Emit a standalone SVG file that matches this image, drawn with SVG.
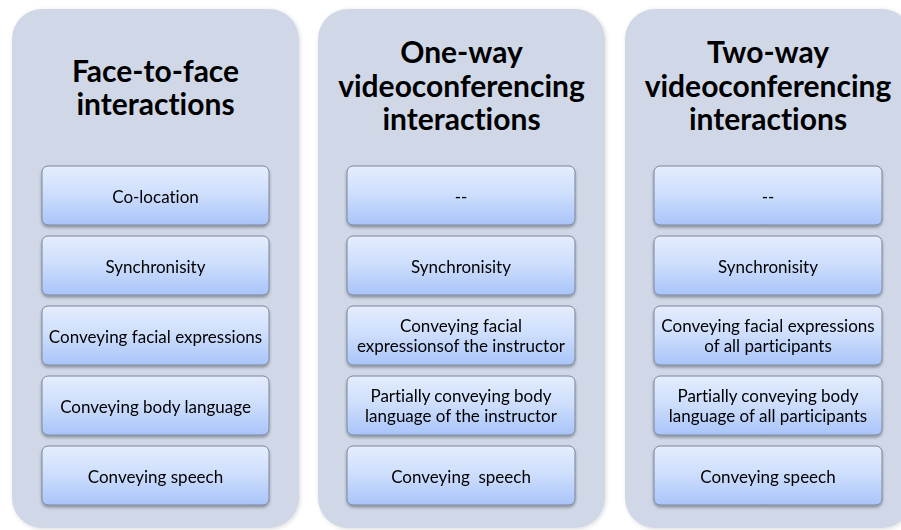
<svg xmlns="http://www.w3.org/2000/svg" width="901" height="530" viewBox="0 0 901 530">
<defs>
<linearGradient id="bg" x1="0" y1="0" x2="0" y2="1">
<stop offset="0" stop-color="#e4edfd"/>
<stop offset="0.5" stop-color="#ccddfc"/>
<stop offset="1" stop-color="#a8c4f9"/>
</linearGradient>
<filter id="sh" x="-10%" y="-20%" width="120%" height="150%">
<feGaussianBlur in="SourceAlpha" stdDeviation="1.5"/>
<feOffset dx="0" dy="2" result="b"/>
<feComponentTransfer><feFuncA type="linear" slope="0.35"/></feComponentTransfer>
<feMerge><feMergeNode/><feMergeNode in="SourceGraphic"/></feMerge>
</filter>
<filter id="psh" x="-5%" y="-5%" width="110%" height="110%">
<feGaussianBlur in="SourceAlpha" stdDeviation="2"/>
<feOffset dx="1" dy="1"/>
<feComponentTransfer><feFuncA type="linear" slope="0.15"/></feComponentTransfer>
<feMerge><feMergeNode/><feMergeNode in="SourceGraphic"/></feMerge>
</filter>
</defs>
<style>
.panel{fill:#d0d8e8;}
.box{fill:url(#bg);stroke:#7c8699;stroke-width:1;}
.title{font-family:Lato,"Liberation Sans",sans-serif;font-weight:bold;font-size:30px;fill:#000;text-anchor:middle;font-variant-ligatures:none;}
.lbl{font-family:Lato,"Liberation Sans",sans-serif;font-size:17px;fill:#000;text-anchor:middle;font-variant-ligatures:none;}
</style>
<rect width="901" height="530" fill="#fff"/>

<g id="col1">
<rect class="panel" x="12" y="9" width="287" height="519" rx="30" filter="url(#psh)"/>
<text class="title" x="155.5" y="82">Face-to-face</text>
<text class="title" x="155.5" y="115">interactions</text>
</g>
<g id="col2">
<rect class="panel" x="318" y="9" width="287" height="519" rx="30" filter="url(#psh)"/>
<text class="title" x="461.5" y="63">One-way</text>
<text class="title" x="461.5" y="97">videoconferencing</text>
<text class="title" x="461.5" y="130">interactions</text>
</g>
<g id="col3">
<rect class="panel" x="625" y="9" width="287" height="519" rx="30" filter="url(#psh)"/>
<text class="title" x="768" y="63">Two-way</text>
<text class="title" x="768" y="97">videoconferencing</text>
<text class="title" x="768" y="130">interactions</text>
</g>

<g id="c1b1" filter="url(#sh)"><rect class="box" x="42" y="166" width="227" height="59" rx="6"/><text class="lbl" x="155.5" y="202.5">Co-location</text></g>
<g id="c1b2" filter="url(#sh)"><rect class="box" x="42" y="236" width="227" height="59" rx="6"/><text class="lbl" x="155.5" y="272.5">Synchronisity</text></g>
<g id="c1b3" filter="url(#sh)"><rect class="box" x="42" y="306" width="227" height="59" rx="6"/><text class="lbl" x="155.5" y="342.5">Conveying facial expressions</text></g>
<g id="c1b4" filter="url(#sh)"><rect class="box" x="42" y="376" width="227" height="59" rx="6"/><text class="lbl" x="155.5" y="412.5">Conveying body language</text></g>
<g id="c1b5" filter="url(#sh)"><rect class="box" x="42" y="446" width="227" height="59" rx="6"/><text class="lbl" x="155.5" y="482.5">Conveying speech</text></g>

<g id="c2b1" filter="url(#sh)"><rect class="box" x="347" y="166" width="228" height="59" rx="6"/><text class="lbl" x="461" y="202.5">--</text></g>
<g id="c2b2" filter="url(#sh)"><rect class="box" x="347" y="236" width="228" height="59" rx="6"/><text class="lbl" x="461" y="272.5">Synchronisity</text></g>
<g id="c2b3" filter="url(#sh)"><rect class="box" x="347" y="306" width="228" height="59" rx="6"/><text class="lbl" x="461" y="332">Conveying facial</text><text class="lbl" x="461" y="352">expressionsof the instructor</text></g>
<g id="c2b4" filter="url(#sh)"><rect class="box" x="347" y="376" width="228" height="59" rx="6"/><text class="lbl" x="461" y="402">Partially conveying body</text><text class="lbl" x="461" y="422">language of the instructor</text></g>
<g id="c2b5" filter="url(#sh)"><rect class="box" x="347" y="446" width="228" height="59" rx="6"/><text class="lbl" x="461" y="482.5" xml:space="preserve">Conveying  speech</text></g>

<g id="c3b1" filter="url(#sh)"><rect class="box" x="654" y="166" width="228" height="59" rx="6"/><text class="lbl" x="768" y="202.5">--</text></g>
<g id="c3b2" filter="url(#sh)"><rect class="box" x="654" y="236" width="228" height="59" rx="6"/><text class="lbl" x="768" y="272.5">Synchronisity</text></g>
<g id="c3b3" filter="url(#sh)"><rect class="box" x="654" y="306" width="228" height="59" rx="6"/><text class="lbl" x="768" y="332">Conveying facial expressions</text><text class="lbl" x="768" y="352">of all participants</text></g>
<g id="c3b4" filter="url(#sh)"><rect class="box" x="654" y="376" width="228" height="59" rx="6"/><text class="lbl" x="768" y="402">Partially conveying body</text><text class="lbl" x="768" y="422">language of all participants</text></g>
<g id="c3b5" filter="url(#sh)"><rect class="box" x="654" y="446" width="228" height="59" rx="6"/><text class="lbl" x="768" y="482.5">Conveying speech</text></g>

<g id="connectors"/>
</svg>
